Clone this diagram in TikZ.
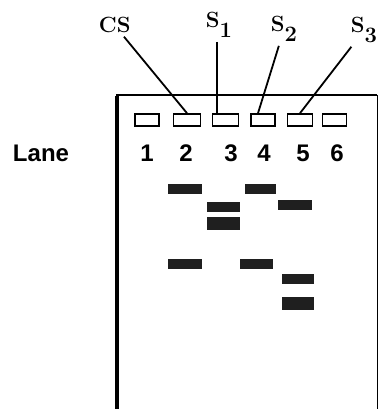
\documentclass[tikz,border=0pt]{standalone}
\usepackage{fontspec}
\setsansfont{Liberation Sans}
\usetikzlibrary{positioning}

\begin{document}
\begin{tikzpicture}[x=1pt,y=1pt,line width=1.8pt,
  well/.style={draw,line width=1.6pt,minimum width=24pt,minimum height=12pt,inner sep=0pt},
  band/.style={fill=black!88,minimum width=33pt,minimum height=10pt,inner sep=0pt},
  lane label/.style={font=\sffamily\bfseries\fontsize{24}{24}\selectfont},
  sample label/.style={anchor=base west,inner sep=1pt,font=\bfseries\fontsize{22}{22}\selectfont}]
  \useasboundingbox (0,0) rectangle (378,-409);
  % gel
  \draw[line width=1.5pt] (116,-95) -- (377,-95);
  \draw[line width=1pt] (377,-95) -- (377,-409);
  \draw[line width=3.5pt] (117,-96) -- (117,-409);
  % wells
  \node[well] (w1) at (147,-120) {};
  \node[well, minimum width=27pt] (w2) at (187,-120) {};
  \node[well, minimum width=26pt] (w3) at (225.5,-120) {};
  \node[well] (w4) at (263,-120) {};
  \node[well, minimum width=25pt] (w5) at (300,-120) {};
  \node[well] (w6) at (334.5,-120) {};
  % lanes
  \node[lane label] (lane) at (41,-153) {Lane};
  \node[lane label] (n1) at (147,-153) {1};
  \node[lane label] (n2) at (186,-153) {2};
  \node[lane label] (n3) at (231,-153) {3};
  \node[lane label] (n4) at (264,-153) {4};
  \node[lane label] (n5) at (303,-153) {5};
  \node[lane label] (n6) at (337,-153) {6};
  % bands
  \node[band, minimum width=34pt] (b2a) at (185,-189) {};
  \node[band, minimum width=31pt] (b4a) at (260.5,-189) {};
  \node[band] (b3a) at (223.5,-207) {};
  \node[band, minimum height=13pt] (b3b) at (223.5,-223.5) {};
  \node[band, minimum width=34pt] (b5a) at (295,-205) {};
  \node[band, minimum width=34pt] (b2b) at (185,-264) {};
  \node[band] (b4b) at (256.5,-264) {};
  \node[band, minimum width=32pt] (b5b) at (298,-279) {};
  \node[band, minimum width=32pt, minimum height=13pt] (b5c) at (298,-303.5) {};
  % samples
  \node[sample label] (cs) at (97,-33) {CS};
  \node[sample label] (s1) at (204,-28) {S\raisebox{-10pt}{1}};
  \node[sample label] (s2) at (269,-32) {S\raisebox{-10pt}{2}};
  \node[sample label] (s3) at (349,-33) {S\raisebox{-10pt}{3}};
  \coordinate (t3) at ([xshift=5pt]w3.north west);
  \path[draw, shorten <=2pt]
    (cs) edge (w2.north)
    (s1.south -| t3) edge (t3)
    (s2) edge ([xshift=-5pt]w4.north)
    (s3) edge (w5.north);
\end{tikzpicture}
\end{document}
